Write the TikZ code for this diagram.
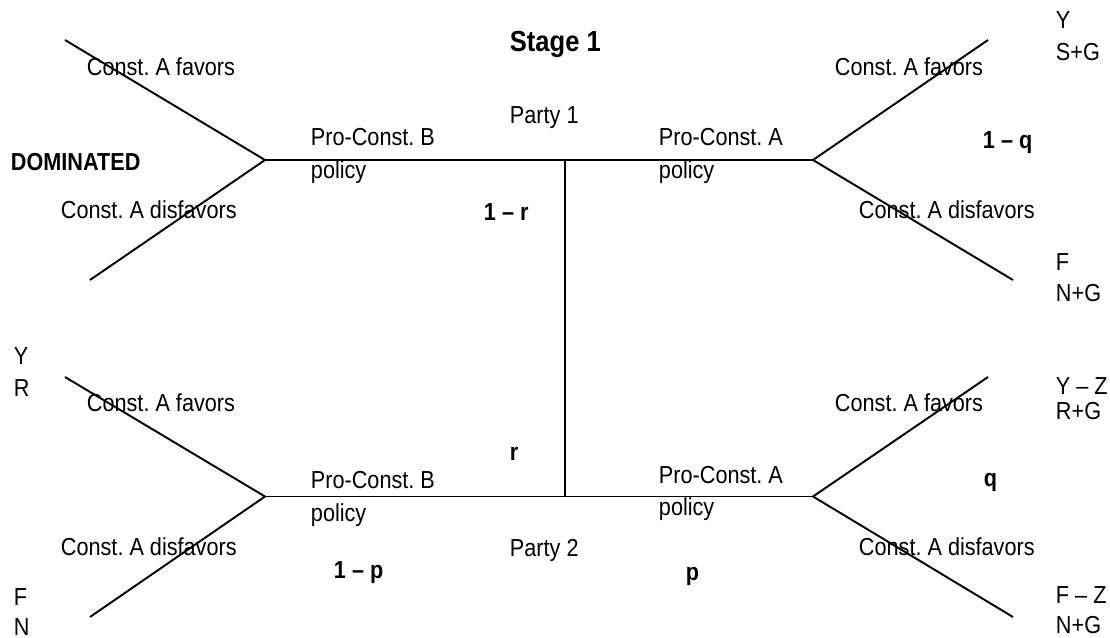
\documentclass[tikz,border=0pt]{standalone}
\usepackage{xcolor}
\usepackage{fontspec}
\setmainfont{Liberation Sans}[FakeStretch=0.88]
\usepackage{tikz}
\frenchspacing

\begin{document}
\begin{tikzpicture}[line width=1.1pt,
    lbl/.style={anchor=west, inner sep=0pt, text height=1.4ex, text depth=0pt, yshift=-1.1pt, font=\fontsize{14}{16}\selectfont},
    prob/.style={lbl, font=\fontsize{14}{16}\selectfont\bfseries}]
\useasboundingbox (0,0) rectangle (22.2,12.76);

% decision points
\coordinate (n_tl) at (5.30,9.56);
\coordinate (n_tc) at (11.30,9.56);
\coordinate (n_tr) at (16.26,9.56);
\coordinate (n_bl) at (5.30,2.83);
\coordinate (n_bc) at (11.30,2.83);
\coordinate (n_br) at (16.26,2.83);

% branch ends
\coordinate (e_tl_fav) at (1.30,11.96);
\coordinate (e_tl_dis) at (1.80,7.16);
\coordinate (e_tr_fav) at (19.76,11.96);
\coordinate (e_tr_dis) at (20.26,7.16);
\coordinate (e_bl_fav) at (1.30,5.22);
\coordinate (e_bl_dis) at (1.80,0.42);
\coordinate (e_br_fav) at (19.76,5.22);
\coordinate (e_br_dis) at (20.26,0.42);

\draw (n_tl) -- (n_tr);
\draw (n_bl) -- (n_br);
\draw (n_tc) -- (n_bc);
\draw (e_tl_fav) -- (n_tl) -- (e_tl_dis);
\draw (e_tr_fav) -- (n_tr) -- (e_tr_dis);
\draw (e_bl_fav) -- (n_bl) -- (e_bl_dis);
\draw (e_br_fav) -- (n_br) -- (e_br_dis);

% middle
\node[lbl, font=\fontsize{16.5}{18}\selectfont\bfseries] (stage) at (10.18,11.90) {Stage 1};
\node[lbl] (party1) at (10.18,10.46) {Party 1};
\node[lbl] (party2) at (10.18,1.80) {Party 2};
\node[prob] (p_1r) at (9.66,8.52) {1 -- r};
\node[prob] (p_r) at (10.18,3.72) {r};
\node[prob] (p_1p) at (6.66,1.36) {1 -- p};
\node[prob] (p_p) at (13.70,1.32) {p};

% policy branches
\node[lbl] (pro_b1) at (6.20,10.02) {Pro-Const. B};
\node[lbl] (pol_b1) at (6.20,9.36) {policy};
\node[lbl] (pro_a1) at (13.16,10.02) {Pro-Const. A};
\node[lbl] (pol_a1) at (13.16,9.36) {policy};
\node[lbl] (pro_b2) at (6.20,3.16) {Pro-Const. B};
\node[lbl] (pol_b2) at (6.20,2.50) {policy};
\node[lbl] (pro_a2) at (13.16,3.26) {Pro-Const. A};
\node[lbl] (pol_a2) at (13.16,2.62) {policy};

% top left
\node[prob] (dom) at (0.20,9.52) {DOMINATED};
\node[lbl] (fav_tl) at (1.72,11.42) {Const. A favors};
\node[lbl] (dis_tl) at (1.20,8.56) {Const. A disfavors};

% top right
\node[lbl] (fav_tr) at (16.68,11.42) {Const. A favors};
\node[lbl] (dis_tr) at (17.16,8.56) {Const. A disfavors};
\node[prob] (p_1q) at (19.64,9.96) {1 -- q};
\node[lbl] (pay_tr1) at (21.10,12.36) {Y};
\node[lbl] (pay_tr2) at (21.10,11.72) {S+G};
\node[lbl] (pay_tr3) at (21.10,7.52) {F};
\node[lbl] (pay_tr4) at (21.10,6.90) {N+G};

% bottom left
\node[lbl] (fav_bl) at (1.72,4.70) {Const. A favors};
\node[lbl] (dis_bl) at (1.20,1.82) {Const. A disfavors};
\node[lbl] (pay_bl1) at (0.26,5.64) {Y};
\node[lbl] (pay_bl2) at (0.26,5.00) {R};
\node[lbl] (pay_bl3) at (0.26,0.82) {F};
\node[lbl] (pay_bl4) at (0.26,0.22) {N};

% bottom right
\node[lbl] (fav_br) at (16.68,4.70) {Const. A favors};
\node[lbl] (dis_br) at (17.16,1.82) {Const. A disfavors};
\node[prob] (p_q) at (19.66,3.20) {q};
\node[lbl] (pay_br1) at (21.10,5.04) {Y -- Z};
\node[lbl] (pay_br2) at (21.10,4.54) {R+G};
\node[lbl] (pay_br3) at (21.10,0.86) {F -- Z};
\node[lbl] (pay_br4) at (21.10,0.26) {N+G};

\end{tikzpicture}
\end{document}
